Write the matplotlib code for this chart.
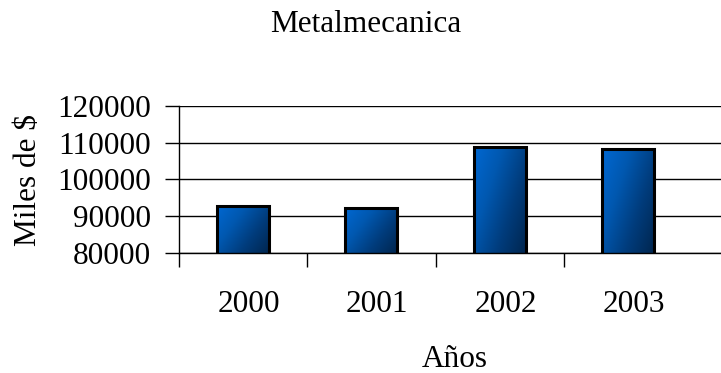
import numpy as np
import matplotlib
matplotlib.use("Agg")
import matplotlib.pyplot as plt
from matplotlib.colors import LinearSegmentedColormap

years = ["2000", "2001", "2002", "2003"]
values = [92640, 92180, 108880, 108170]
y_ticks = [80000, 90000, 100000, 110000, 120000]

plt.rcParams["font.family"] = ["Liberation Serif", "DejaVu Serif"]
FS = 22.5

W, H = 721, 373
fig = plt.figure(figsize=(W / 100, H / 100), dpi=100)
ax = fig.add_axes([179 / W, 120.3 / H, 1 - 179 / W, 146.7 / H])

cat_px = 128.3
x = np.arange(len(years))
xlim = (-0.5, -0.5 + (W - 179) / cat_px)

# horizontal gridlines behind bars
for yv in y_ticks:
    ax.axhline(yv, color="black", lw=1.0, zorder=0)

bars = ax.bar(x, values, width=0.405, bottom=0, color="none",
              edgecolor="black", linewidth=2.2, zorder=3)

# diagonal blue gradient fill, clipped to each bar
cmap = LinearSegmentedColormap.from_list("blues", ["#0068d2", "#0058b0", "#003c7c", "#00264f"])
n = 200
uu, vv = np.meshgrid(np.linspace(0, 1, n), np.linspace(0, 1, n))
grad = (uu * 0.6 + vv * 0.4)
for b in bars:
    x0, w = b.get_x(), b.get_width()
    im = ax.imshow(grad, cmap=cmap, extent=[x0, x0 + w, 80000, b.get_height()],
                   origin="upper", aspect="auto", zorder=2, interpolation="bilinear")
    im.set_clip_path(b)

ax.set_xlim(*xlim)
ax.set_ylim(80000, 120000)

for s in ["top", "right"]:
    ax.spines[s].set_visible(False)
ax.spines["left"].set_linewidth(1.0)
ax.spines["bottom"].set_linewidth(1.0)

ax.set_yticks(y_ticks)
ax.set_yticklabels([str(v) for v in y_ticks], fontsize=FS)
ax.tick_params(axis="y", direction="out", length=10, width=1, pad=10)

# category boundary ticks below the axis
ax.set_xticks([-0.5, 0.5, 1.5, 2.5])
ax.set_xticklabels([])
ax.tick_params(axis="x", direction="out", length=10, width=1)
for xi, lab in zip(x, years):
    ax.text(xi + 0.045, -59 / 146.7, lab, transform=ax.get_xaxis_transform(),
            ha="center", va="baseline", fontsize=FS)

fig.text(365.5 / W, 1 - 31.7 / H, "Metalmecanica", ha="center", va="baseline", fontsize=FS)
fig.text(29 / W, 1 - 180 / H, "Miles de $", ha="center", va="center",
         rotation=90, fontsize=FS)
fig.text(454.5 / W, 1 - 367 / H, "Años", ha="center", va="baseline", fontsize=FS)

fig.savefig("out.png", dpi=100)
